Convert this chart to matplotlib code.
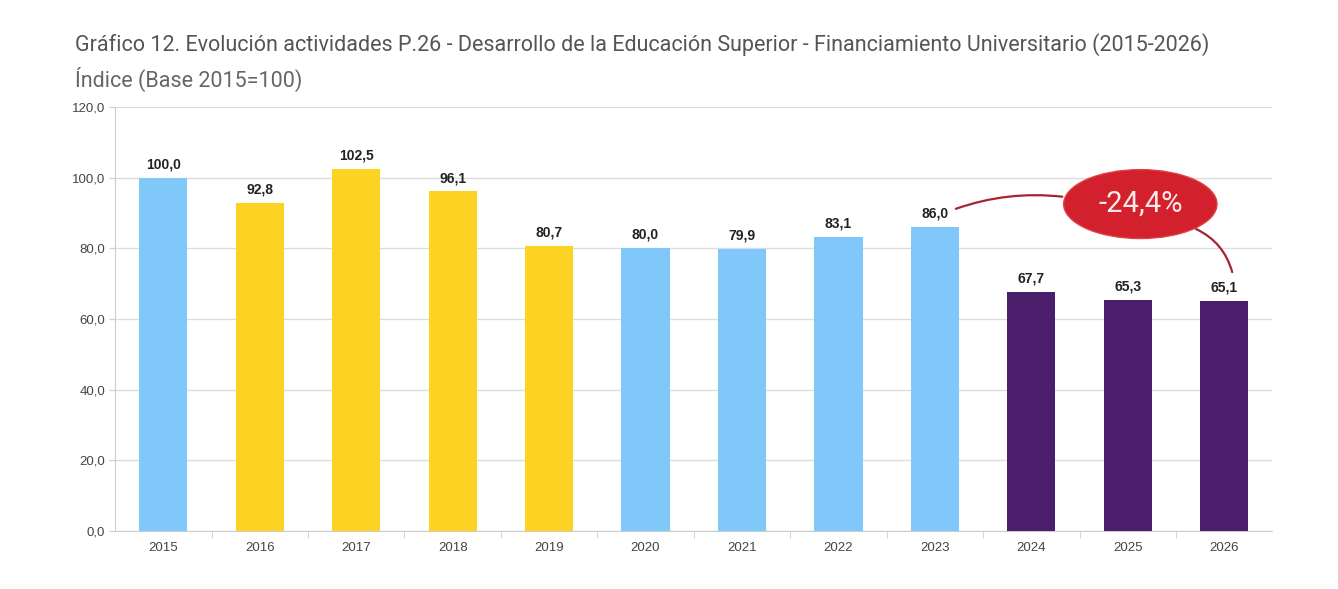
import matplotlib
matplotlib.use("Agg")
import matplotlib.pyplot as plt
from matplotlib.patches import Ellipse

years = ["2015", "2016", "2017", "2018", "2019", "2020", "2021", "2022", "2023", "2024", "2025", "2026"]
values = [100.0, 92.8, 102.5, 96.1, 80.7, 80.0, 79.9, 83.1, 86.0, 67.7, 65.3, 65.1]
groups = ["blue", "yellow", "yellow", "yellow", "yellow", "blue", "blue", "blue", "blue", "purple", "purple", "purple"]
palette = {"blue": "#80C8FA", "yellow": "#FCD322", "purple": "#4B1E6C"}
yticks = [0, 20, 40, 60, 80, 100, 120]
change_label = "-24,4%"

fig = plt.figure(figsize=(13.38, 5.89), dpi=100)
ax = fig.add_axes([0.086, 0.0985, 0.865, 0.72])

x = list(range(len(years)))
ax.bar(x, values, width=0.5, color=[palette[g] for g in groups], zorder=3)

for xi, v in zip(x, values):
    ax.text(xi, v + 1.8, f"{v:.1f}".replace(".", ","), ha="center", va="bottom",
            fontsize=10, fontweight="bold", color="#222222", family="Liberation Sans", zorder=4)

ax.set_xlim(-0.5, len(years) - 0.5)
ax.set_ylim(0, 120)
ax.set_yticks(yticks)
ax.set_yticklabels([f"{t:.1f}".replace(".", ",") for t in yticks], fontsize=9.5, color="#444444",
                   family="Liberation Sans")
ax.set_xticks(x)
ax.set_xticklabels(years, fontsize=9.5, color="#444444", family="Liberation Sans")
ax.tick_params(axis="x", length=0, pad=8)
ax.set_xticks([i + 0.5 for i in x[:-1]], minor=True)
ax.tick_params(axis="x", which="minor", length=5, color="#cccccc")
ax.tick_params(axis="y", length=4, color="#cccccc", pad=3)
ax.grid(axis="y", color="#dddddd", linewidth=1, zorder=0)
for s in ["top", "right"]:
    ax.spines[s].set_visible(False)
for s in ["left", "bottom"]:
    ax.spines[s].set_color("#cccccc")

# annotation ellipse
ecx, ecy = 10.13, 92.5
ax.add_patch(Ellipse((ecx, ecy), 1.59, 19.5, facecolor="#D2202C", edgecolor="#E04048", lw=1, zorder=6, clip_on=False))
ax.text(ecx, ecy, change_label, ha="center", va="center", fontsize=21, color="#FBEAEA",
        family="Roboto", zorder=7)
ax.annotate("", xy=(9.35, 94.5), xytext=(8.19, 90.9),
            arrowprops=dict(arrowstyle="-", color="#A3262E", lw=1.6, connectionstyle="arc3,rad=-0.12"), zorder=5)
ax.annotate("", xy=(11.09, 72.5), xytext=(10.68, 85.8),
            arrowprops=dict(arrowstyle="-", color="#A3262E", lw=1.6, connectionstyle="arc3,rad=-0.25"), zorder=5)

fig.text(0.056, 0.925, "Gráfico 12. Evolución actividades P.26 - Desarrollo de la Educación Superior - Financiamiento Universitario (2015-2026)",
         fontsize=15.5, color="#555555", family="Roboto", ha="left", va="center")
fig.text(0.056, 0.865, "Índice (Base 2015=100)", fontsize=15.5, color="#666666",
         family="Roboto", ha="left", va="center")

fig.savefig("out.png", dpi=100, facecolor="white")
